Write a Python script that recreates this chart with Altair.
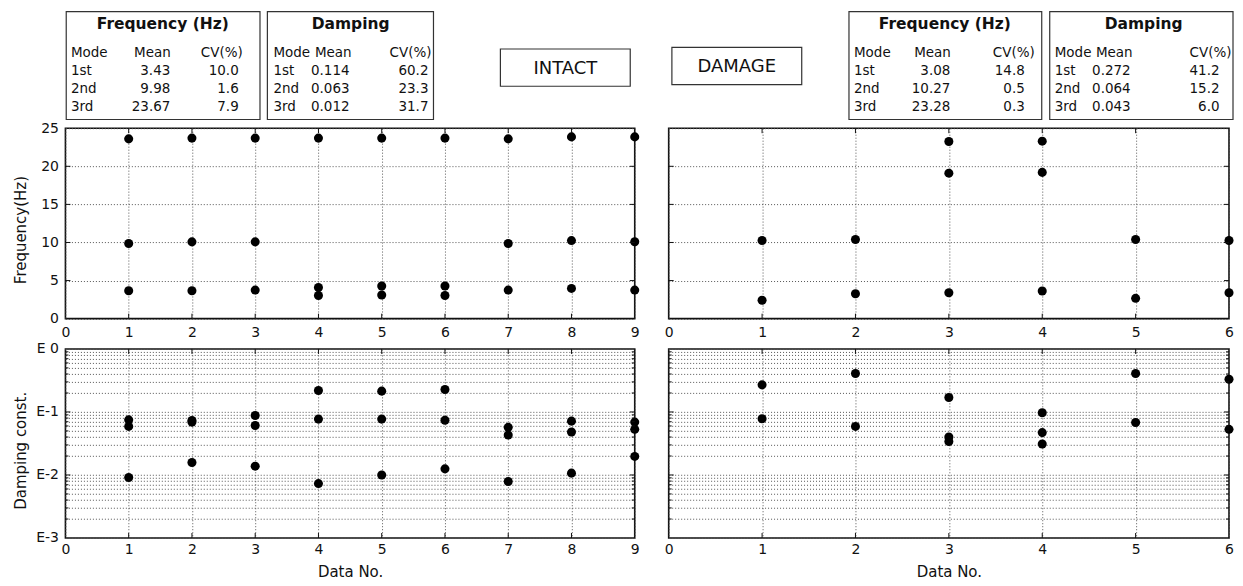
import altair as alt
import pandas as pd

FONT = "DejaVu Sans"
INK = "#111111"
GRID = "#555555"

# ---------------- data ----------------
intact_freq_no = [1, 1, 1, 2, 2, 2, 3, 3, 3, 4, 4, 4, 5, 5, 5, 6, 6, 6, 7, 7, 7, 8, 8, 8, 9, 9, 9]
intact_freq_hz = [23.6, 9.86, 3.66, 23.7, 10.08, 3.66, 23.7, 10.08, 3.75,
                  23.7, 4.1, 3.05, 23.7, 4.28, 3.1, 23.7, 4.28, 3.05,
                  23.6, 9.86, 3.75, 23.86, 10.25, 3.97, 23.86, 10.1, 3.75]

intact_damp_no = [1, 1, 1, 2, 2, 2, 3, 3, 3, 4, 4, 4, 5, 5, 5, 6, 6, 6, 7, 7, 7, 8, 8, 8, 9, 9, 9]
intact_damp = [0.075, 0.059, 0.0091, 0.073, 0.069, 0.0158, 0.088, 0.061, 0.0138,
               0.219, 0.077, 0.0073, 0.214, 0.077, 0.010, 0.227, 0.074, 0.0125,
               0.057, 0.043, 0.0079, 0.0715, 0.048, 0.0107, 0.069, 0.053, 0.0197]

damage_freq_no = [1, 1, 2, 2, 3, 3, 3, 4, 4, 4, 5, 5, 6, 6]
damage_freq_hz = [10.27, 2.41, 10.4, 3.28, 23.25, 19.1, 3.41, 23.3, 19.2, 3.63, 10.4, 2.67, 10.27, 3.41]

damage_damp_no = [1, 1, 2, 2, 3, 3, 3, 4, 4, 4, 5, 5, 6, 6]
damage_damp = [0.269, 0.078, 0.407, 0.059, 0.17, 0.040, 0.034, 0.097, 0.047, 0.031, 0.407, 0.068, 0.33, 0.053]

mode_labels = ["1st", "2nd", "3rd"]
intact_freq_mean = ["3.43", "9.98", "23.67"]
intact_freq_cv = ["10.0", "1.6", "7.9"]
intact_damp_mean = ["0.114", "0.063", "0.012"]
intact_damp_cv = ["60.2", "23.3", "31.7"]
damage_freq_mean = ["3.08", "10.27", "23.28"]
damage_freq_cv = ["14.8", "0.5", "0.3"]
damage_damp_mean = ["0.272", "0.064", "0.043"]
damage_damp_cv = ["41.2", "15.2", "6.0"]

freq_ticks = [0, 5, 10, 15, 20, 25]
damp_major = [0.001, 0.01, 0.1, 1]
damp_grid = [round(m * 10.0 ** e, 6) for e in (-3, -2, -1) for m in range(1, 10)] + [1]

# ---------------- layout ----------------
W_L = 570
W_R = 561
H_T = 190.7
H_B = 189.3
ONE = pd.DataFrame({"k": [0]})
TXT = 13.5


def x_enc(n, title=None, pad=6):
    ax = alt.Axis(values=list(range(n + 1)), grid=True, labelPadding=pad, title=title, titlePadding=8)
    return alt.X("no:Q", scale=alt.Scale(domain=[0, n], nice=False, zero=False), axis=ax)


def ticks_x(n, h, xe):
    df = pd.DataFrame({"no": list(range(1, n))})
    bot = alt.Chart(df).mark_rule(color=INK, strokeWidth=1).encode(x=xe, y=alt.value(h), y2=alt.value(h - 5))
    top = alt.Chart(df).mark_rule(color=INK, strokeWidth=1).encode(x=xe, y=alt.value(0), y2=alt.value(5))
    return [bot, top]


def ticks_y(field, vals, ye, w, length=5):
    df = pd.DataFrame({field: vals})
    left = alt.Chart(df).mark_rule(color=INK, strokeWidth=1).encode(y=ye, x=alt.value(0), x2=alt.value(length))
    right = alt.Chart(df).mark_rule(color=INK, strokeWidth=1).encode(y=ye, x=alt.value(w - length), x2=alt.value(w))
    return [left, right]


def txt(s, x, y, align="left", bold=False, size=TXT):
    return alt.Chart(ONE).mark_text(
        text=s, align=align, baseline="alphabetic", font=FONT, fontSize=size,
        fontWeight="bold" if bold else "normal", color=INK,
    ).encode(x=alt.value(x), y=alt.value(y))


def box(x1, x2, y1, y2):
    return alt.Chart(ONE).mark_rect(fill="white", fillOpacity=0, stroke="#333333", strokeWidth=1.2).encode(
        x=alt.value(x1), x2=alt.value(x2), y=alt.value(y1), y2=alt.value(y2))


ROWS_Y = [-53, -35, -17]
HEAD_Y = -71
TITLE_Y = -99.3


def table(x1, x2, title, title_x, mode_x, mean_hx, mean_x, cv_hx, cv_x, means, cvs):
    layers = [box(x1, x2, -116.7, -8.7),
              txt(title, title_x, TITLE_Y, align="center", bold=True, size=15.5),
              txt("Mode", mode_x, HEAD_Y),
              txt("Mean", mean_hx, HEAD_Y, align="right"),
              txt("CV(%)", cv_hx, HEAD_Y, align="right")]
    for i in range(3):
        layers.append(txt(mode_labels[i], mode_x, ROWS_Y[i]))
        layers.append(txt(means[i], mean_x, ROWS_Y[i], align="right"))
        layers.append(txt(cvs[i], cv_x, ROWS_Y[i], align="right"))
    return layers


def freq_panel(no, hz, n, w, left, extra):
    xe = x_enc(n, pad=7)
    yax = alt.Axis(values=freq_ticks, grid=True, labels=left, labelPadding=7,
                   title="Frequency(Hz)" if left else None, titleX=-37, titleY=101.5)
    ye = alt.Y("hz:Q", scale=alt.Scale(domain=[0, 25], nice=False, zero=False), axis=yax)
    pts = alt.Chart(pd.DataFrame({"no": no, "hz": hz})).mark_circle(size=82, color="black", opacity=1).encode(x=xe, y=ye)
    layers = [pts] + ticks_x(n, H_T, xe) + ticks_y("hz", freq_ticks[1:-1], ye, w) + extra
    return alt.layer(*layers).properties(width=w, height=H_T)


def damp_panel(no, d, n, w, left):
    xe = x_enc(n, title="Data No.", pad=5)
    label_expr = ("datum.value == 1 ? 'E 0' : datum.value == 0.1 ? 'E-1' : "
                  "datum.value == 0.01 ? 'E-2' : datum.value == 0.001 ? 'E-3' : ''")
    yax = alt.Axis(values=damp_grid, grid=True, labels=left, labelExpr=label_expr, labelPadding=7,
                   title="Damping const." if left else None, titleX=-37, titleY=101.5)
    ye = alt.Y("d:Q", scale=alt.Scale(type="log", domain=[0.001, 1], nice=False), axis=yax)
    pts = alt.Chart(pd.DataFrame({"no": no, "d": d})).mark_circle(size=82, color="black", opacity=1).encode(x=xe, y=ye)
    layers = [pts] + ticks_x(n, H_B, xe) + ticks_y("d", damp_major[1:-1], ye, w) + \
        ticks_y("d", [v for v in damp_grid if v not in damp_major], ye, w, length=3)
    return alt.layer(*layers).properties(width=w, height=H_B)


left_ann = table(0.8, 194.8, "Frequency (Hz)", 97.5, 5.5, 105.5, 105, 177.5, 173.5, intact_freq_mean, intact_freq_cv) + \
    table(202.2, 368.5, "Damping", 285.5, 208.2, 286.5, 284.5, 366.5, 363.5, intact_damp_mean, intact_damp_cv) + \
    [box(435.5, 565.5, -79.3, -42), txt("INTACT", 500.5, -54.3, align="center", size=18)]

right_ann = [box(3.2, 133.2, -81, -43.7), txt("DAMAGE", 68.2, -56.7, align="center", size=18)] + \
    table(180.5, 373.5, "Frequency (Hz)", 276.5, 185.5, 282.5, 282, 366.5, 356.5, damage_freq_mean, damage_freq_cv) + \
    table(381.5, 565, "Damping", 475.5, 386.5, 464.5, 462.5, 563.5, 551.5, damage_damp_mean, damage_damp_cv)

TL = freq_panel(intact_freq_no, intact_freq_hz, 9, W_L, True, left_ann)
TR = freq_panel(damage_freq_no, damage_freq_hz, 6, W_R, False, right_ann)
BL = damp_panel(intact_damp_no, intact_damp, 9, W_L, True)
BR = damp_panel(damage_damp_no, damage_damp, 6, W_R, False)

chart = alt.concat(
    TL, TR, BL, BR, columns=2, spacing={"row": 30, "column": 34}, bounds="flush"
).properties(
    padding={"left": 4.5, "top": 1, "right": 0, "bottom": 0}
).configure_view(
    stroke=INK, strokeWidth=1.6
).configure_axis(
    labelFont=FONT, titleFont=FONT, labelColor=INK, titleColor=INK,
    labelFontSize=14, titleFontSize=15, titleFontWeight="normal",
    gridDash=[1, 2], gridColor=GRID, gridWidth=1, gridOpacity=1,
    ticks=False, tickSize=0, domain=False, labelFlush=False, labelOverlap=False,
)

chart.save("out.html", embed_options={"renderer": "svg", "actions": False})
